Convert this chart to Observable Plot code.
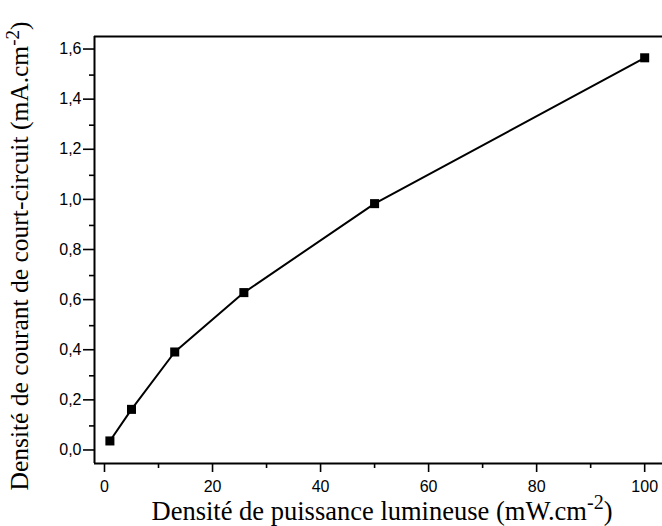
<!DOCTYPE html>
<html>
<head>
<meta charset="utf-8">
<script src="https://cdn.jsdelivr.net/npm/d3@7"></script>
<script src="https://cdn.jsdelivr.net/npm/@observablehq/plot@0.6"></script>
<style>
  html, body { margin: 0; padding: 0; background: #fff; }
</style>
</head>
<body>
<div id="chart"></div>
<script>
// Data
const powerDensity = [1, 5, 13, 25.8, 50, 100];            // mW.cm-2
const currentDensity = [0.04, 0.166, 0.395, 0.632, 0.987, 1.569]; // mA.cm-2

// Ticks
const xMajorTicks = [0, 20, 40, 60, 80, 100];
const xMinorTicks = [10, 30, 50, 70, 90];
const yMajorTicks = [0, 0.2, 0.4, 0.6, 0.8, 1.0, 1.2, 1.4, 1.6];
const yMinorTicks = [0.1, 0.3, 0.5, 0.7, 0.9, 1.1, 1.3, 1.5];

const xTitle = "Densité de puissance lumineuse (mW.cm";
const yTitle = "Densité de courant de court-circuit (mA.cm";
const unitExp = "-2";

const xDomain = [-1.85, 103.3];
const yDomain = [-0.05, 1.654];

const data = powerDensity.map((x, i) => ({x, y: currentDensity[i]}));
const fmt = d => d.toFixed(1).replace(".", ",");

const svg = Plot.plot({
  width: 662,
  height: 526,
  marginLeft: 94,
  marginRight: 0,
  marginTop: 36,
  marginBottom: 63,
  style: {fontFamily: "'Liberation Sans', Arial, sans-serif", fontSize: "16px", color: "#000", background: "#fff"},
  x: {domain: xDomain},
  y: {domain: yDomain},
  marks: [
    Plot.axisX({ticks: xMajorTicks, tickSize: 9, tickPadding: 8, tickFormat: d => String(d), label: null, strokeWidth: 1.6, fontSize: 16}),
    Plot.axisX({ticks: xMinorTicks, tickSize: 5, text: null, label: null, strokeWidth: 1.6}),
    Plot.axisY({ticks: yMajorTicks, tickSize: 11, tickPadding: 2, dy: -1, tickFormat: fmt, label: null, strokeWidth: 1.6, fontSize: 16}),
    Plot.axisY({ticks: yMinorTicks, tickSize: 5, text: null, label: null, strokeWidth: 1.6}),
    Plot.ruleX([xDomain[0]], {stroke: "#000", strokeWidth: 2}),
    Plot.ruleY([yDomain[0], yDomain[1]], {stroke: "#000", strokeWidth: 2}),
    Plot.line(data, {x: "x", y: "y", stroke: "#000", strokeWidth: 2}),
    Plot.dot(data, {x: "x", y: "y", symbol: "square", r: 5.1, fill: "#000", stroke: "none"})
  ]
});

document.getElementById("chart").appendChild(svg);

const s = d3.select(svg);
const serif = "'Liberation Serif', 'Times New Roman', serif";

const xt = s.append("text")
  .attr("x", 382).attr("y", 520)
  .attr("text-anchor", "middle")
  .style("font-family", serif).style("font-size", "26.5px").attr("fill", "#000");
xt.append("tspan").text(xTitle);
xt.append("tspan").style("font-size", "20px").attr("dy", -11).text(unitExp);
xt.append("tspan").attr("dy", 11).text(")");

const yt = s.append("text")
  .attr("transform", "translate(28,256) rotate(-90)")
  .attr("text-anchor", "middle")
  .style("font-family", serif).style("font-size", "25.5px").attr("fill", "#000");
yt.append("tspan").text(yTitle);
yt.append("tspan").style("font-size", "19px").attr("dy", -9).text(unitExp);
yt.append("tspan").attr("dy", 9).text(")");
</script>
</body>
</html>
